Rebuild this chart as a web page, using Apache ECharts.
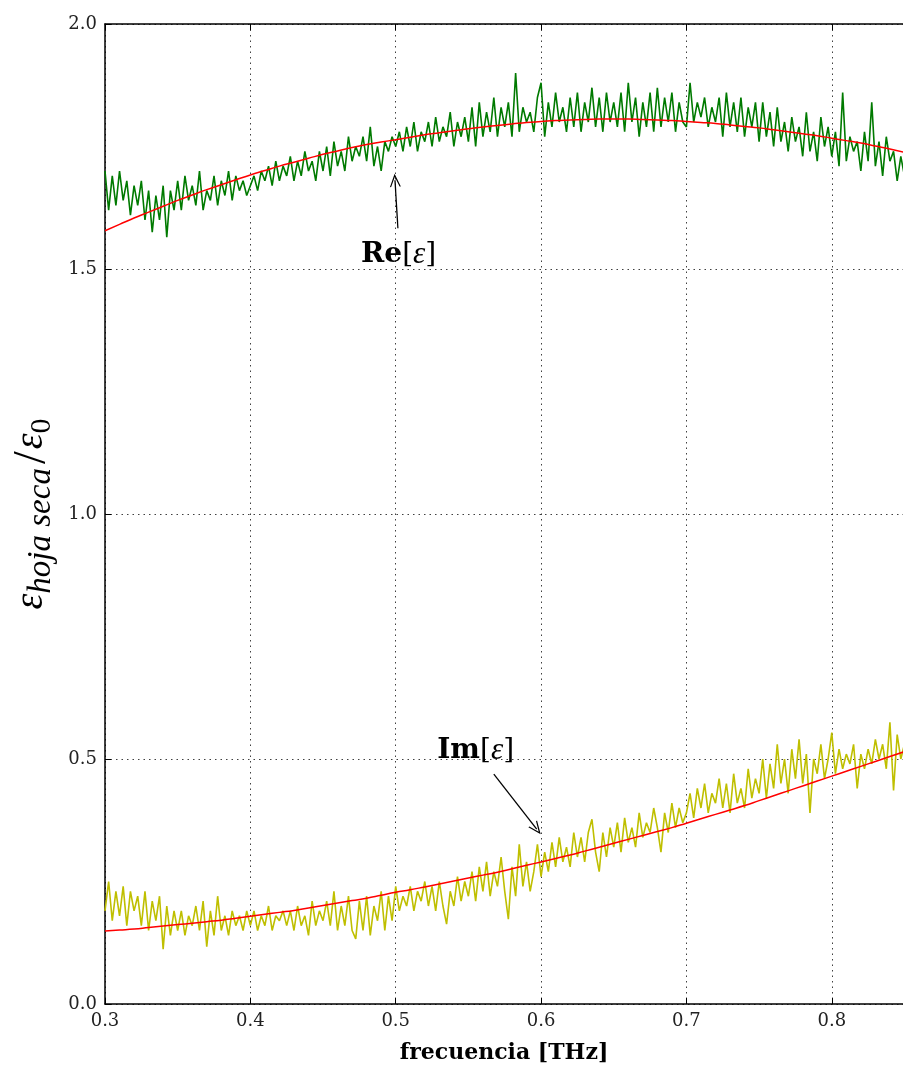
<!DOCTYPE html>
<html>
<head>
<meta charset="utf-8">
<script src="https://cdn.jsdelivr.net/npm/echarts@6/dist/echarts.min.js"></script>
<style>
  html, body { margin: 0; padding: 0; background: #fff; overflow: hidden; }
  #chart { width: 903px; height: 1069px; }
</style>
</head>
<body>
<div id="chart"></div>
<script>
// Measured frequency grid [THz]
const freq = [
  0.3000,0.3025,0.3050,0.3075,0.3100,0.3125,0.3150,0.3175,0.3200,0.3225,
  0.3250,0.3275,0.3300,0.3325,0.3350,0.3375,0.3400,0.3425,0.3450,0.3475,
  0.3500,0.3525,0.3550,0.3575,0.3600,0.3625,0.3650,0.3675,0.3700,0.3725,
  0.3750,0.3775,0.3800,0.3825,0.3850,0.3875,0.3900,0.3925,0.3950,0.3975,
  0.4000,0.4025,0.4050,0.4075,0.4100,0.4125,0.4150,0.4175,0.4200,0.4225,
  0.4250,0.4275,0.4300,0.4325,0.4350,0.4375,0.4400,0.4425,0.4450,0.4475,
  0.4500,0.4525,0.4550,0.4575,0.4600,0.4625,0.4650,0.4675,0.4700,0.4725,
  0.4750,0.4775,0.4800,0.4825,0.4850,0.4875,0.4900,0.4925,0.4950,0.4975,
  0.5000,0.5025,0.5050,0.5075,0.5100,0.5125,0.5150,0.5175,0.5200,0.5225,
  0.5250,0.5275,0.5300,0.5325,0.5350,0.5375,0.5400,0.5425,0.5450,0.5475,
  0.5500,0.5525,0.5550,0.5575,0.5600,0.5625,0.5650,0.5675,0.5700,0.5725,
  0.5750,0.5775,0.5800,0.5825,0.5850,0.5875,0.5900,0.5925,0.5950,0.5975,
  0.6000,0.6025,0.6050,0.6075,0.6100,0.6125,0.6150,0.6175,0.6200,0.6225,
  0.6250,0.6275,0.6300,0.6325,0.6350,0.6375,0.6400,0.6425,0.6450,0.6475,
  0.6500,0.6525,0.6550,0.6575,0.6600,0.6625,0.6650,0.6675,0.6700,0.6725,
  0.6750,0.6775,0.6800,0.6825,0.6850,0.6875,0.6900,0.6925,0.6950,0.6975,
  0.7000,0.7025,0.7050,0.7075,0.7100,0.7125,0.7150,0.7175,0.7200,0.7225,
  0.7250,0.7275,0.7300,0.7325,0.7350,0.7375,0.7400,0.7425,0.7450,0.7475,
  0.7500,0.7525,0.7550,0.7575,0.7600,0.7625,0.7650,0.7675,0.7700,0.7725,
  0.7750,0.7775,0.7800,0.7825,0.7850,0.7875,0.7900,0.7925,0.7950,0.7975,
  0.8000,0.8025,0.8050,0.8075,0.8100,0.8125,0.8150,0.8175,0.8200,0.8225,
  0.8250,0.8275,0.8300,0.8325,0.8350,0.8375,0.8400,0.8425,0.8450,0.8475,
  0.8500
];

// Real part of the measured relative permittivity
const reEps = [
  1.70,1.62,1.69,1.63,1.70,1.64,1.68,1.61,1.67,1.63,
  1.68,1.60,1.66,1.575,1.65,1.60,1.67,1.565,1.66,1.62,
  1.68,1.62,1.69,1.64,1.67,1.63,1.70,1.62,1.66,1.64,
  1.69,1.63,1.68,1.65,1.70,1.64,1.69,1.66,1.68,1.65,
  1.67,1.69,1.66,1.70,1.68,1.71,1.67,1.72,1.68,1.71,
  1.69,1.73,1.68,1.72,1.69,1.74,1.70,1.72,1.68,1.74,
  1.70,1.75,1.69,1.76,1.71,1.74,1.70,1.77,1.72,1.75,
  1.73,1.77,1.72,1.79,1.71,1.75,1.70,1.76,1.74,1.77,
  1.75,1.78,1.74,1.79,1.75,1.80,1.74,1.78,1.76,1.80,
  1.75,1.81,1.76,1.79,1.77,1.82,1.75,1.80,1.77,1.81,
  1.76,1.83,1.75,1.84,1.77,1.82,1.78,1.85,1.77,1.83,
  1.79,1.84,1.77,1.90,1.78,1.83,1.80,1.82,1.78,1.85,
  1.88,1.77,1.84,1.79,1.86,1.80,1.83,1.78,1.85,1.79,
  1.86,1.78,1.84,1.80,1.87,1.79,1.85,1.78,1.86,1.80,
  1.84,1.79,1.86,1.78,1.88,1.80,1.85,1.77,1.84,1.79,
  1.86,1.78,1.87,1.79,1.85,1.80,1.86,1.78,1.84,1.80,
  1.79,1.88,1.80,1.84,1.81,1.85,1.79,1.83,1.80,1.85,
  1.77,1.86,1.79,1.84,1.78,1.85,1.77,1.83,1.79,1.84,
  1.76,1.84,1.77,1.82,1.75,1.83,1.76,1.80,1.74,1.81,
  1.76,1.79,1.73,1.82,1.74,1.78,1.72,1.81,1.75,1.79,
  1.73,1.78,1.71,1.86,1.72,1.77,1.74,1.76,1.70,1.78,
  1.72,1.84,1.71,1.76,1.69,1.77,1.72,1.74,1.68,1.73,
  1.69
];

// Imaginary part of the measured relative permittivity
const imEps = [
  0.19,0.25,0.17,0.23,0.18,0.24,0.16,0.23,0.19,0.22,
  0.16,0.23,0.15,0.21,0.17,0.22,0.112,0.20,0.14,0.19,
  0.15,0.19,0.14,0.18,0.16,0.20,0.15,0.21,0.117,0.19,
  0.14,0.22,0.15,0.18,0.14,0.19,0.16,0.18,0.15,0.19,
  0.16,0.19,0.15,0.18,0.16,0.20,0.15,0.18,0.17,0.19,
  0.16,0.19,0.15,0.20,0.16,0.18,0.14,0.21,0.16,0.19,
  0.17,0.21,0.16,0.23,0.15,0.20,0.16,0.22,0.15,0.133,
  0.21,0.15,0.22,0.14,0.20,0.17,0.23,0.15,0.22,0.17,
  0.24,0.19,0.22,0.20,0.24,0.19,0.23,0.21,0.25,0.20,
  0.24,0.19,0.25,0.20,0.163,0.23,0.20,0.26,0.21,0.25,
  0.22,0.27,0.21,0.28,0.23,0.29,0.22,0.27,0.24,0.30,
  0.23,0.173,0.28,0.22,0.326,0.24,0.29,0.23,0.27,0.326,
  0.26,0.31,0.27,0.33,0.28,0.34,0.29,0.32,0.28,0.35,
  0.30,0.34,0.29,0.35,0.377,0.31,0.27,0.35,0.30,0.36,
  0.32,0.37,0.31,0.38,0.33,0.36,0.32,0.39,0.34,0.37,
  0.35,0.40,0.36,0.31,0.39,0.35,0.41,0.36,0.40,0.37,
  0.39,0.43,0.38,0.44,0.40,0.45,0.39,0.43,0.41,0.46,
  0.40,0.45,0.39,0.47,0.41,0.44,0.40,0.48,0.42,0.46,
  0.43,0.50,0.42,0.49,0.44,0.53,0.45,0.50,0.43,0.52,
  0.46,0.54,0.45,0.51,0.39,0.50,0.47,0.53,0.46,0.50,
  0.554,0.47,0.52,0.48,0.51,0.49,0.53,0.44,0.51,0.48,
  0.52,0.49,0.54,0.50,0.53,0.48,0.575,0.436,0.55,0.50,
  0.53
];

// Model fit, sampled every 0.01 THz
const fitFreq = [
  0.30,0.31,0.32,0.33,0.34,0.35,0.36,0.37,0.38,0.39,
  0.40,0.41,0.42,0.43,0.44,0.45,0.46,0.47,0.48,0.49,
  0.50,0.51,0.52,0.53,0.54,0.55,0.56,0.57,0.58,0.59,
  0.60,0.61,0.62,0.63,0.64,0.65,0.66,0.67,0.68,0.69,
  0.70,0.71,0.72,0.73,0.74,0.75,0.76,0.77,0.78,0.79,
  0.80,0.81,0.82,0.83,0.84,0.85
];
const reFit = [
  1.578,1.591,1.604,1.616,1.628,1.640,1.651,1.662,1.672,1.682,
  1.692,1.701,1.710,1.718,1.726,1.734,1.741,1.748,1.754,1.759,
  1.764,1.769,1.774,1.778,1.782,1.786,1.790,1.793,1.796,1.799,
  1.801,1.803,1.804,1.805,1.806,1.806,1.806,1.805,1.804,1.803,
  1.801,1.799,1.797,1.794,1.791,1.788,1.784,1.780,1.776,1.772,
  1.767,1.762,1.757,1.751,1.745,1.738
];
const imFit = [
  0.149,0.151,0.153,0.156,0.159,0.162,0.165,0.168,0.171,0.175,
  0.179,0.183,0.187,0.191,0.196,0.201,0.206,0.211,0.216,0.222,
  0.228,0.233,0.239,0.245,0.251,0.257,0.263,0.269,0.276,0.283,
  0.290,0.297,0.304,0.312,0.320,0.328,0.336,0.344,0.352,0.360,
  0.369,0.378,0.387,0.396,0.405,0.415,0.425,0.435,0.445,0.455,
  0.465,0.475,0.485,0.495,0.505,0.515
];

// Annotation anchors: [label position, arrow tail, arrow tip] in data units
const reNote = { text: [0.502, 1.529], tail: [0.5015, 1.583], tip: [0.4995, 1.681] };
const imNote = { text: [0.555, 0.516], tail: [0.5675, 0.469], tip: [0.597, 0.357] };

const zip = (xs, ys) => xs.map((x, i) => [x, ys[i]]);

const serif = 'Liberation Serif';
const wide = 'DejaVu Serif';
const openArrow = 'path://M0,12 L6,0 L12,12 L10.6,12 L6,3 L1.4,12 Z';

function noteSeries(note, rich) {
  return {
    type: 'line', data: [], silent: true,
    markLine: {
      silent: true, animation: false,
      symbol: ['none', openArrow], symbolSize: [11, 13],
      lineStyle: { color: '#000', width: 1.3, type: 'solid' },
      label: { show: false },
      data: [[{ coord: note.tail }, { coord: note.tip }]]
    },
    markPoint: {
      silent: true, animation: false,
      symbolSize: 0,
      label: { show: true, position: 'inside', formatter: rich.text, rich: rich.styles },
      data: [{ coord: note.text }]
    }
  };
}

const epsStyles = {
  b: { fontFamily: wide, fontWeight: 'bold', fontSize: 28, color: '#000' },
  r: { fontFamily: wide, fontSize: 28, color: '#000' },
  i: { fontFamily: serif, fontStyle: 'italic', fontSize: 31, color: '#000' }
};

const chart = echarts.init(document.getElementById('chart'), null, { renderer: 'canvas' });

chart.setOption({
  animation: false,
  backgroundColor: '#fff',
  grid: { left: 105, right: 0, top: 24, bottom: 64, containLabel: false },
  xAxis: [
    {
      type: 'value', min: 0.3, max: 0.849, interval: 0.1, position: 'bottom',
      name: 'frecuencia [THz]', nameLocation: 'middle', nameGap: 38,
      nameTextStyle: { fontFamily: wide, fontWeight: 'bold', fontSize: 22, color: '#000' },
      axisLine: { show: true, lineStyle: { color: '#000', width: 1.5 } },
      axisTick: { show: true, inside: true, length: 6, lineStyle: { color: '#000' } },
      axisLabel: {
        show: true, margin: 8, showMaxLabel: false,
        fontFamily: wide, fontSize: 18, color: '#222',
        formatter: v => v.toFixed(1)
      },
      splitLine: { show: true, lineStyle: { color: '#000', type: [1.5, 4], width: 1, opacity: 0.75 } }
    },
    {
      type: 'value', min: 0.3, max: 0.849, interval: 0.1, position: 'top',
      axisLine: { show: true, lineStyle: { color: '#000', width: 1.5 } },
      axisTick: { show: true, inside: true, length: 6, lineStyle: { color: '#000' } },
      axisLabel: { show: false },
      splitLine: { show: false }
    }
  ],
  yAxis: {
    type: 'value', min: 0, max: 2, interval: 0.5,
    name: '{e|ε}{s|hoja seca}{sl|/}{e|ε}{z|0}',
    nameLocation: 'middle', nameGap: 52, nameRotate: 90,
    nameTextStyle: {
      rich: {
        e: { fontFamily: serif, fontStyle: 'italic', fontSize: 40, color: '#000', verticalAlign: 'bottom' },
        s: { fontFamily: serif, fontStyle: 'italic', fontSize: 33, color: '#000', verticalAlign: 'bottom', padding: [0, 2, -6, 0] },
        sl: { fontFamily: serif, fontSize: 46, color: '#000', verticalAlign: 'bottom', padding: [0, 2, -4, 2] },
        z: { fontFamily: serif, fontSize: 30, color: '#000', verticalAlign: 'bottom', padding: [0, 0, -6, 0] }
      }
    },
    axisLine: { show: true, lineStyle: { color: '#000', width: 1.5 } },
    axisTick: { show: true, inside: true, length: 6, lineStyle: { color: '#000' } },
    axisLabel: {
      show: true, margin: 8, fontFamily: wide, fontSize: 18, color: '#222',
      formatter: v => v.toFixed(1)
    },
    splitLine: { show: true, lineStyle: { color: '#000', type: [1.5, 4], width: 1, opacity: 0.75 } }
  },
  series: [
    {
      name: 'Re', type: 'line', data: zip(freq, reEps), showSymbol: false,
      lineStyle: { color: '#007a00', width: 1.6 }, z: 3
    },
    {
      name: 'Im', type: 'line', data: zip(freq, imEps), showSymbol: false,
      lineStyle: { color: '#bfbf00', width: 1.6 }, z: 3
    },
    {
      name: 'Re fit', type: 'line', data: zip(fitFreq, reFit), showSymbol: false, smooth: true,
      lineStyle: { color: '#ff0000', width: 1.5 }, z: 4
    },
    {
      name: 'Im fit', type: 'line', data: zip(fitFreq, imFit), showSymbol: false, smooth: true,
      lineStyle: { color: '#ff0000', width: 1.5 }, z: 4
    },
    noteSeries(reNote, { text: '{b|Re}{r|[}{i|ε}{r|]}', styles: epsStyles }),
    noteSeries(imNote, { text: '{b|Im}{r|[}{i|ε}{r|]}', styles: epsStyles })
  ]
});
</script>
</body>
</html>
